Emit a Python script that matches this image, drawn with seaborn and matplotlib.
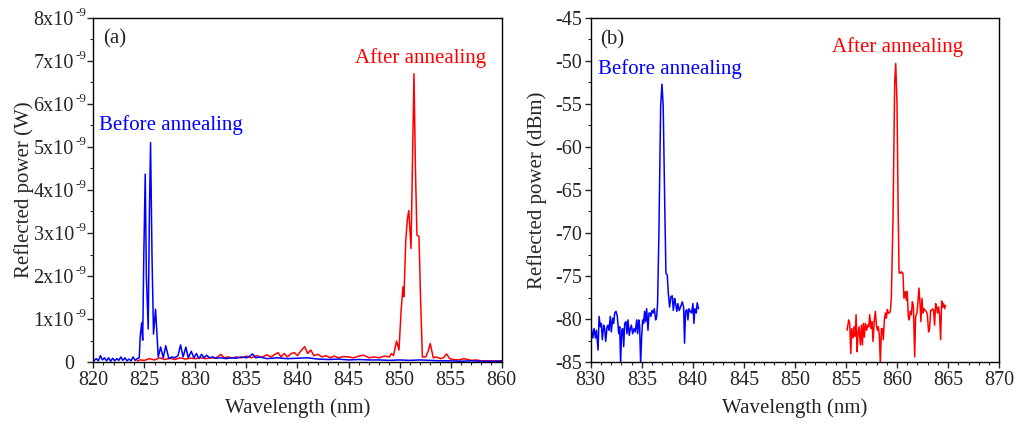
import numpy as np
import pandas as pd
import matplotlib
matplotlib.use("Agg")
import matplotlib.pyplot as plt
from matplotlib.ticker import MultipleLocator, FuncFormatter
import seaborn as sns

# ---- panel (a): linear power, values in nW ----
wl_before_a = [820.0, 820.3, 820.5, 820.7, 820.9, 821.1, 821.3, 821.5, 821.7, 821.9,
               822.1, 822.3, 822.5, 822.7, 822.9, 823.1, 823.3, 823.5, 823.7, 823.9,
               824.1, 824.3, 824.5, 824.6, 824.74, 824.84, 824.95, 825.09, 825.2, 825.38,
               825.5, 825.61, 825.75, 825.9, 826.1, 826.25, 826.36, 826.6, 826.85, 827.1,
               827.4, 827.7, 828.0, 828.3, 828.55, 828.8, 829.07, 829.3, 829.6, 829.85,
               830.1, 830.35, 830.6, 830.85, 831.1, 831.4, 831.7, 832.0, 832.5, 833.0,
               833.5, 834.0, 834.5, 835.0, 835.3, 835.6, 835.9, 836.3, 837.0, 838.0,
               839.0, 840.0, 841.0, 842.0, 843.0, 844.0, 845.0, 846.0, 847.0, 848.0,
               849.0, 850.0, 851.0, 852.0, 853.0, 854.0, 855.0, 856.0, 857.0, 858.0,
               859.0, 860.0]
p_before_a = [0.02, 0.08, 0.03, 0.15, 0.05, 0.10, 0.03, 0.10, 0.02, 0.09,
              0.03, 0.08, 0.04, 0.12, 0.04, 0.10, 0.03, 0.07, 0.03, 0.12,
              0.04, 0.08, 0.10, 0.60, 0.91, 0.51, 2.50, 4.37, 2.00, 0.77,
              3.50, 5.10, 2.50, 0.65, 1.23, 0.60, 0.12, 0.35, 0.10, 0.38,
              0.08, 0.12, 0.10, 0.15, 0.40, 0.12, 0.35, 0.10, 0.25, 0.10,
              0.20, 0.08, 0.18, 0.10, 0.16, 0.10, 0.12, 0.09, 0.10, 0.08,
              0.10, 0.09, 0.12, 0.10, 0.13, 0.19, 0.10, 0.12, 0.08, 0.10,
              0.08, 0.09, 0.10, 0.07, 0.06, 0.07, 0.05, 0.06, 0.05, 0.05,
              0.04, 0.05, 0.04, 0.05, 0.04, 0.03, 0.03, 0.02, 0.03, 0.02,
              0.02, 0.02]

wl_after_a = [824.3, 824.6, 825.0, 825.5, 826.0, 826.5, 827.0, 827.5, 828.0, 828.5,
              829.0, 829.5, 830.0, 830.5, 831.0, 831.5, 832.0, 832.5, 832.8, 833.2,
              833.6, 834.0, 834.5, 835.0, 835.5, 836.0, 836.5, 837.0, 837.4, 837.8,
              838.1, 838.4, 838.7, 839.0, 839.4, 839.7, 840.0, 840.3, 840.7, 841.0,
              841.3, 841.6, 842.0, 842.4, 842.8, 843.2, 843.6, 844.0, 844.5, 845.0,
              845.5, 846.0, 846.5, 847.0, 847.5, 848.0, 848.5, 849.0, 849.2, 849.4,
              849.7, 849.94, 850.15, 850.33, 850.43, 850.6, 850.76, 850.9, 851.12, 851.25,
              851.41, 851.55, 851.7, 851.9, 852.05, 852.23, 852.56, 852.8, 853.0, 853.3,
              853.6, 854.0, 854.3, 854.6, 854.9, 855.3, 855.8, 856.3, 857.0, 857.5,
              858.0, 859.0, 860.0]
p_after_a = [0.03, 0.05, 0.04, 0.08, 0.05, 0.10, 0.06, 0.09, 0.06, 0.10,
             0.07, 0.09, 0.08, 0.10, 0.08, 0.10, 0.09, 0.18, 0.10, 0.12,
             0.09, 0.12, 0.10, 0.14, 0.10, 0.15, 0.11, 0.17, 0.12, 0.18,
             0.22, 0.12, 0.20, 0.12, 0.20, 0.22, 0.15, 0.25, 0.36, 0.20,
             0.28, 0.15, 0.18, 0.12, 0.15, 0.10, 0.14, 0.10, 0.13, 0.12,
             0.10, 0.14, 0.16, 0.10, 0.12, 0.10, 0.14, 0.12, 0.20, 0.15,
             0.49, 0.28, 1.20, 1.75, 1.52, 2.80, 3.32, 3.52, 2.64, 4.50,
             6.70, 4.50, 2.95, 2.92, 1.50, 0.12, 0.12, 0.25, 0.43, 0.10,
             0.12, 0.08, 0.10, 0.19, 0.08, 0.06, 0.05, 0.08, 0.04, 0.05,
             0.03, 0.03, 0.03]

# ---- panel (b): dBm ----
wl_before_b = [830.0, 830.07, 830.2, 830.33, 830.46, 830.56, 830.72, 830.82, 830.95, 831.04,
               831.14, 831.27, 831.37, 831.47, 831.6, 831.7, 831.79, 831.92, 832.02, 832.15,
               832.25, 832.35, 832.48, 832.61, 832.74, 832.84, 832.93, 833.03, 833.13, 833.23,
               833.33, 833.46, 833.55, 833.65, 833.78, 833.88, 833.98, 834.11, 834.24, 834.37,
               834.5, 834.6, 834.7, 834.79, 834.89, 834.99, 835.09, 835.18, 835.28, 835.38,
               835.48, 835.61, 835.71, 835.8, 835.9, 836.0, 836.13, 836.23, 836.36, 836.46,
               836.55, 836.68, 836.85, 836.98, 837.1, 837.27, 837.37, 837.5, 837.6, 837.73,
               837.86, 837.99, 838.09, 838.22, 838.31, 838.44, 838.54, 838.67, 838.8, 838.97,
               839.1, 839.19, 839.29, 839.42, 839.52, 839.62, 839.75, 839.88, 840.01, 840.11,
               840.2, 840.34, 840.43, 840.56]
db_before_b = [-84.0, -81.1, -82.2, -81.1, -82.2, -81.3, -83.6, -79.7, -80.9, -80.5,
               -82.4, -80.7, -81.1, -82.6, -80.9, -80.7, -81.3, -79.7, -81.5, -79.9,
               -80.5, -79.3, -79.1, -79.7, -81.7, -80.9, -85.2, -81.3, -81.1, -83.2,
               -80.5, -80.3, -81.7, -80.1, -81.9, -81.1, -80.7, -81.7, -81.1, -81.5,
               -80.1, -81.7, -80.1, -80.7, -85.2, -82.1, -80.1, -80.5, -79.1, -80.3,
               -78.8, -81.3, -79.3, -79.3, -79.7, -79.0, -79.3, -78.8, -80.1, -79.7,
               -78.2, -70.0, -55.3, -52.7, -55.3, -68.1, -74.7, -74.9, -77.0, -78.6,
               -77.4, -77.3, -79.0, -77.6, -78.2, -79.1, -78.2, -79.0, -78.6, -78.0,
               -78.6, -82.8, -79.1, -78.9, -80.1, -78.8, -79.1, -79.3, -78.2, -80.5,
               -78.8, -79.3, -78.1, -78.8]

wl_after_b = [855.11, 855.27, 855.37, 855.47, 855.56, 855.69, 855.79, 855.89, 855.99, 856.09,
              856.18, 856.28, 856.41, 856.51, 856.61, 856.7, 856.8, 856.9, 857.03, 857.13,
              857.23, 857.32, 857.45, 857.55, 857.65, 857.78, 857.88, 857.98, 858.08, 858.17,
              858.27, 858.37, 858.47, 858.56, 858.66, 858.76, 858.86, 858.95, 859.05, 859.15,
              859.25, 859.34, 859.44, 859.61, 859.77, 859.87, 860.0, 860.1, 860.2, 860.33,
              860.42, 860.58, 860.68, 860.81, 860.91, 861.0, 861.1, 861.2, 861.3, 861.4,
              861.5, 861.6, 861.73, 861.82, 861.95, 862.05, 862.15, 862.25, 862.34, 862.44,
              862.54, 862.64, 862.74, 862.87, 862.97, 863.09, 863.19, 863.29, 863.39, 863.49,
              863.58, 863.68, 863.78, 863.88, 863.97, 864.07, 864.17, 864.27, 864.37, 864.46,
              864.56, 864.66, 864.76]
db_after_b = [-81.3, -80.1, -80.5, -84.0, -81.1, -82.2, -80.9, -82.0, -79.5, -83.8,
              -81.7, -80.9, -83.0, -80.7, -83.0, -80.5, -82.1, -80.5, -81.3, -80.7,
              -80.9, -79.5, -81.1, -80.3, -82.6, -80.1, -79.1, -80.7, -81.3, -80.9,
              -81.9, -85.2, -81.1, -81.1, -82.4, -80.1, -79.3, -79.9, -78.9, -79.3,
              -79.3, -79.1, -77.6, -68.1, -52.6, -50.3, -55.0, -66.3, -74.6, -74.7,
              -74.5, -74.7, -77.6, -76.8, -77.8, -76.8, -79.7, -80.1, -79.1, -79.5,
              -78.0, -78.4, -84.4, -79.7, -79.3, -78.0, -76.4, -78.2, -80.3, -77.6,
              -79.3, -78.8, -79.0, -79.1, -79.5, -81.5, -81.1, -79.0, -79.0, -78.8,
              -79.0, -80.7, -78.2, -78.6, -79.3, -78.6, -79.5, -82.4, -77.9, -78.6,
              -78.2, -78.8, -78.4]

BLUE = "#0000ff"
RED = "#ff0000"

sns.set_theme(style="ticks")
plt.rcParams["font.family"] = ["Liberation Serif", "DejaVu Serif"]
plt.rcParams["axes.unicode_minus"] = False
plt.rcParams["axes.linewidth"] = 1.0
plt.rcParams["axes.edgecolor"] = "black"

fig = plt.figure(figsize=(10.16, 4.25), dpi=100)
ax1 = fig.add_axes([0.0918, 0.148, 0.402, 0.810])
ax2 = fig.add_axes([0.5814, 0.148, 0.402, 0.810])

df_a1 = pd.DataFrame({"wl": wl_before_a, "p": np.array(p_before_a) * 1e-9})
df_a2 = pd.DataFrame({"wl": wl_after_a, "p": np.array(p_after_a) * 1e-9})
sns.lineplot(data=df_a2, x="wl", y="p", ax=ax1, color=RED, lw=1.1, estimator=None)
sns.lineplot(data=df_a1, x="wl", y="p", ax=ax1, color=BLUE, lw=1.1, estimator=None)

df_b1 = pd.DataFrame({"wl": wl_before_b, "db": db_before_b})
df_b2 = pd.DataFrame({"wl": wl_after_b, "db": db_after_b})
sns.lineplot(data=df_b1, x="wl", y="db", ax=ax2, color=BLUE, lw=1.1, estimator=None)
sns.lineplot(data=df_b2, x="wl", y="db", ax=ax2, color=RED, lw=1.1, estimator=None)


def mant_fmt(v, pos):
    # mantissa part only, the "-9" exponent is drawn as a raised small text
    n = int(round(v * 1e9))
    return "0" if n == 0 else "%dx10" % n


ax1.set_xlim(820, 860)
ax1.set_ylim(0, 8e-9)
ax1.xaxis.set_major_locator(MultipleLocator(5))
ax1.xaxis.set_minor_locator(MultipleLocator(1))
ax1.yaxis.set_major_locator(MultipleLocator(1e-9))
ax1.yaxis.set_minor_locator(MultipleLocator(0.5e-9))
ax1.yaxis.set_major_formatter(FuncFormatter(mant_fmt))
ax1.set_ylabel("Reflected power (W)", fontsize=15)
ax1.yaxis.set_label_coords(-0.145, 0.5)

ax2.set_xlim(830, 870)
ax2.set_ylim(-85, -45)
ax2.xaxis.set_major_locator(MultipleLocator(5))
ax2.xaxis.set_minor_locator(MultipleLocator(1))
ax2.yaxis.set_major_locator(MultipleLocator(5))
ax2.yaxis.set_minor_locator(MultipleLocator(2.5))
ax2.set_ylabel("Reflected power (dBm)", fontsize=15)
ax2.yaxis.set_label_coords(-0.108, 0.5)

for ax in (ax1, ax2):
    ax.set_xlabel("Wavelength (nm)", fontsize=15, labelpad=6)
    ax.tick_params(which="major", direction="out", length=4.5, width=1.0, labelsize=14.5,
                   top=False, right=False)
    ax.tick_params(axis="x", which="major", pad=2)
    ax.tick_params(axis="y", which="major", pad=1.5)
    ax.tick_params(which="minor", direction="out", length=2.5, width=0.8,
                   top=False, right=False)
    for s in ax.spines.values():
        s.set_visible(True)
        s.set_color("black")
        s.set_linewidth(1.0)

# leave room for the exponent between tick and mantissa
ax1.tick_params(axis="y", which="major", pad=9.5)
for v in ax1.get_yticks():
    if 0 < v <= 8.01e-9:
        ax1.annotate("-9", xy=(0, v), xycoords=("axes fraction", "data"),
                     xytext=(-5, 3.8), textcoords="offset points",
                     fontsize=9.5, ha="right", va="center")

ax1.text(0.024, 0.939, "(a)", transform=ax1.transAxes, fontsize=15, va="center", ha="left")
ax1.text(0.014, 0.689, "Before annealing", transform=ax1.transAxes, fontsize=15,
         color=BLUE, va="center", ha="left")
ax1.text(0.64, 0.884, "After annealing", transform=ax1.transAxes, fontsize=15,
         color=RED, va="center", ha="left")

ax2.text(0.023, 0.936, "(b)", transform=ax2.transAxes, fontsize=15, va="center", ha="left")
ax2.text(0.018, 0.852, "Before annealing", transform=ax2.transAxes, fontsize=15,
         color=BLUE, va="center", ha="left")
ax2.text(0.591, 0.916, "After annealing", transform=ax2.transAxes, fontsize=15,
         color=RED, va="center", ha="left")

fig.savefig("out.png", dpi=100)
